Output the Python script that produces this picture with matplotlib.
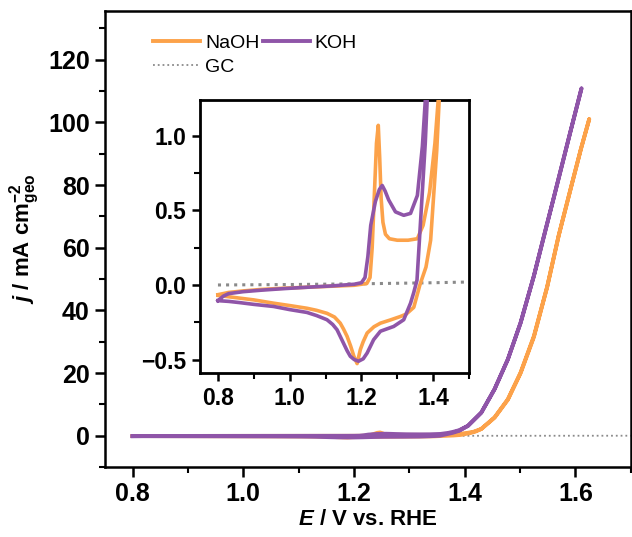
import matplotlib
matplotlib.use("Agg")
import matplotlib.pyplot as plt
from matplotlib.ticker import MultipleLocator

# ---- data ----
# NaOH, forward and reverse sweep
E_naoh_fwd = [0.80, 0.83, 0.87, 0.92, 0.98, 1.05, 1.12, 1.18, 1.215, 1.224, 1.230, 1.236, 1.242, 1.247,
              1.251, 1.255, 1.260, 1.267, 1.278, 1.30, 1.33, 1.356, 1.372, 1.39, 1.405, 1.416, 1.43,
              1.454, 1.478, 1.501, 1.525, 1.549, 1.57, 1.591, 1.61, 1.625]
j_naoh_fwd = [-0.065, -0.05, -0.04, -0.03, -0.022, -0.015, -0.008, -0.002, 0.01, 0.05, 0.25, 0.6, 0.95, 1.07,
              0.85, 0.58, 0.42, 0.34, 0.31, 0.30, 0.30, 0.31, 0.40, 0.62, 0.95, 1.3, 2.2,
              5.9, 11.7, 20.2, 31.8, 47.5, 64, 78.5, 91.5, 101]
E_naoh_rev = [1.625, 1.61, 1.591, 1.57, 1.549, 1.525, 1.501, 1.478, 1.454, 1.43, 1.42, 1.41, 1.40, 1.393,
              1.38, 1.363, 1.346, 1.325, 1.309, 1.28, 1.253, 1.235, 1.216, 1.205, 1.197, 1.188, 1.179,
              1.17, 1.16, 1.15, 1.141, 1.125, 1.104, 1.075, 1.048, 1.00, 0.955, 0.90, 0.85, 0.80]
j_naoh_rev = [101, 91.5, 78.5, 64, 47.5, 31.5, 20, 11.5, 5.8, 2.2, 1.4, 0.9, 0.55, 0.3,
              0.12, 0.0, -0.15, -0.195, -0.211, -0.235, -0.256, -0.28, -0.322, -0.38, -0.433, -0.527, -0.478,
              -0.41, -0.344, -0.295, -0.256, -0.215, -0.19, -0.17, -0.156, -0.138, -0.122, -0.1, -0.085, -0.07]

# KOH, forward and reverse sweep
E_koh_fwd = [0.80, 0.815, 0.83, 0.87, 0.92, 0.98, 1.05, 1.12, 1.18, 1.200, 1.210, 1.218, 1.226, 1.239, 1.25,
             1.258, 1.266, 1.276, 1.295, 1.318, 1.337, 1.356, 1.37, 1.379, 1.39, 1.406, 1.43, 1.454,
             1.478, 1.501, 1.525, 1.545, 1.561, 1.591, 1.611]
j_koh_fwd = [-0.105, -0.075, -0.058, -0.045, -0.035, -0.025, -0.015, -0.006, 0.005, 0.015, 0.05, 0.19, 0.40, 0.56, 0.64,
             0.667, 0.63, 0.57, 0.49, 0.467, 0.48, 0.60, 0.93, 1.27, 1.8, 3.2, 7.4, 14.9,
             24.4, 36.1, 51, 65, 76, 97, 110.8]
E_koh_rev = [1.611, 1.591, 1.561, 1.525, 1.501, 1.478, 1.454, 1.43, 1.406, 1.39, 1.378, 1.368, 1.355, 1.346,
             1.337, 1.318, 1.29, 1.253, 1.234, 1.216, 1.205, 1.192, 1.18, 1.169, 1.16, 1.15, 1.14, 1.132,
             1.12, 1.104, 1.075, 1.048, 1.00, 0.955, 0.90, 0.86, 0.83, 0.80]
j_koh_rev = [110.8, 97, 76, 51, 36, 24.4, 14.9, 7.4, 3.2, 1.6, 0.95, 0.55, 0.033, -0.05,
             -0.122, -0.233, -0.278, -0.31, -0.367, -0.456, -0.495, -0.511, -0.5, -0.478, -0.44, -0.39, -0.34, -0.3,
             -0.265, -0.233, -0.205, -0.184, -0.165, -0.144, -0.13, -0.118, -0.11, -0.105]

# glassy carbon blank
E_gc = [0.80, 1.00, 1.20, 1.40, 1.50, 1.60, 1.70]
j_gc = [0.0, 0.003, 0.008, 0.015, 0.02, 0.03, 0.04]

C_NAOH = "#FCA24A"
C_KOH = "#8F55A8"
C_GC = "#8A8A8A"

plt.rcParams["font.family"] = ["Liberation Sans", "DejaVu Sans"]
plt.rcParams["font.weight"] = "bold"
plt.rcParams["mathtext.fontset"] = "custom"
plt.rcParams["mathtext.rm"] = "Liberation Sans:bold"
plt.rcParams["mathtext.it"] = "Liberation Sans:italic:bold"
plt.rcParams["mathtext.bf"] = "Liberation Sans:bold"

fig = plt.figure(figsize=(6.32, 5.37), dpi=100)
ax = fig.add_axes([0.166, 0.130, 0.832, 0.8495])

E_naoh = E_naoh_fwd + E_naoh_rev
j_naoh = j_naoh_fwd + j_naoh_rev
E_koh = E_koh_fwd + E_koh_rev
j_koh = j_koh_fwd + j_koh_rev

l1, = ax.plot(E_naoh, j_naoh, color=C_NAOH, lw=2.8, label="NaOH", zorder=3)
l2, = ax.plot(E_koh, j_koh, color=C_KOH, lw=2.8, label="KOH", zorder=4)
l3, = ax.plot(E_gc, j_gc, color=C_GC, lw=1.3, ls=":", label="GC", zorder=2)

ax.set_xlim(0.75, 1.7)
ax.set_ylim(-10, 135.5)
ax.xaxis.set_major_locator(MultipleLocator(0.2))
ax.xaxis.set_minor_locator(MultipleLocator(0.1))
ax.yaxis.set_major_locator(MultipleLocator(20))
ax.yaxis.set_minor_locator(MultipleLocator(10))
ax.tick_params(which="major", direction="out", length=7, width=1.8, labelsize=18, pad=4)
ax.tick_params(which="minor", direction="out", length=4, width=1.5)
for s in ax.spines.values():
    s.set_linewidth(1.8)
for lab in ax.get_xticklabels() + ax.get_yticklabels():
    lab.set_fontweight("bold")

ax.set_xlabel("$E$ / V vs. RHE", fontsize=16, fontweight="bold", labelpad=2)
ax.set_ylabel(r"$j$ / mA cm$_{\mathrm{geo}}^{\mathrm{-2}}$", fontsize=16, fontweight="bold", labelpad=4)

ax.legend(handles=[l1, l3, l2], ncol=2, loc="upper left", bbox_to_anchor=(0.07, 0.975),
          frameon=False, prop={"weight": "normal", "size": 14}, handlelength=2.4,
          handletextpad=0.25, columnspacing=0.2, labelspacing=0.35, borderaxespad=0.2)

# ---- inset: CV close-up ----
axi = fig.add_axes([0.3165, 0.3054, 0.4256, 0.5084])
axi.plot(E_gc, j_gc, color=C_GC, lw=2.2, ls=":", zorder=2)
axi.plot(E_naoh, j_naoh, color=C_NAOH, lw=2.6, zorder=3)
axi.plot(E_koh, j_koh, color=C_KOH, lw=2.6, zorder=4)
axi.set_xlim(0.75, 1.5)
axi.set_ylim(-0.59, 1.24)
axi.xaxis.set_major_locator(MultipleLocator(0.2))
axi.xaxis.set_minor_locator(MultipleLocator(0.1))
axi.yaxis.set_major_locator(MultipleLocator(0.5))
axi.yaxis.set_minor_locator(MultipleLocator(0.25))
axi.tick_params(which="major", direction="out", length=6, width=1.8, labelsize=16.5, pad=4)
axi.tick_params(which="minor", direction="out", length=4, width=1.5)
for s in axi.spines.values():
    s.set_linewidth(2.0)
for lab in axi.get_xticklabels() + axi.get_yticklabels():
    lab.set_fontweight("bold")

fig.savefig("out.png", dpi=100)
